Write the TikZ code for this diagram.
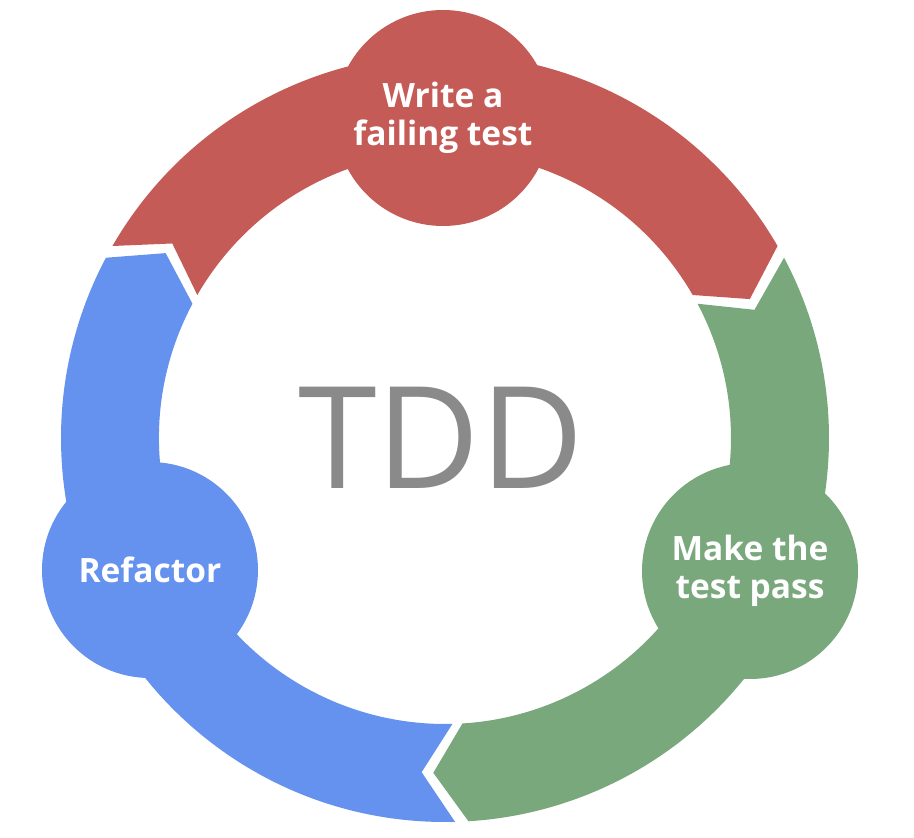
\documentclass[tikz,border=0pt]{standalone}
\usepackage{fontspec}
\setmainfont{Open Sans}
\definecolor{tddred}{HTML}{C55B57}
\definecolor{tddgreen}{HTML}{79A87C}
\definecolor{tddblue}{HTML}{6592EE}
\definecolor{tddgray}{HTML}{8A8A8A}
\begin{document}
\begin{tikzpicture}[x=1pt, y=1pt, declare function={ro=384; ri=286; rm=335; d=5.5;},
	stage/.style={circle, minimum size=216pt, inner sep=0pt, text=white, align=center, font=\fontsize{33.5}{38}\selectfont\bfseries}]
	% Khung hình
	\useasboundingbox (-445,-400) rectangle (469,438);
	% Ba cung mũi tên (góc đuôi / góc đầu)
	\foreach \a/\b/\col in {150/30/tddred, 28/-86.5/tddgreen, -88.5/-208/tddblue} {
	\fill[\col] ({\a}:{ro}) arc[start angle=\a, end angle=\b, radius=ro] -- ({\b-d}:{rm}) -- ({\b}:{ri}) arc[start angle=\b, end angle=\a, radius=ri] -- ({\a-d}:{rm}) -- cycle;
	}
	% Các bước
	\node[stage, fill=tddred] (write) at (-2,320) {Write a\\failing test};
	\node[stage, fill=tddgreen] (pass) at (305,-133) {Make the\\test pass};
	\node[stage, fill=tddblue] (refactor) at (-295,-132) {Refactor};
	% Chữ ở giữa
	\node[text=tddgray, font=\fontsize{142}{142}\selectfont] (tdd) at (-4,0) {TDD};
\end{tikzpicture}
\end{document}
